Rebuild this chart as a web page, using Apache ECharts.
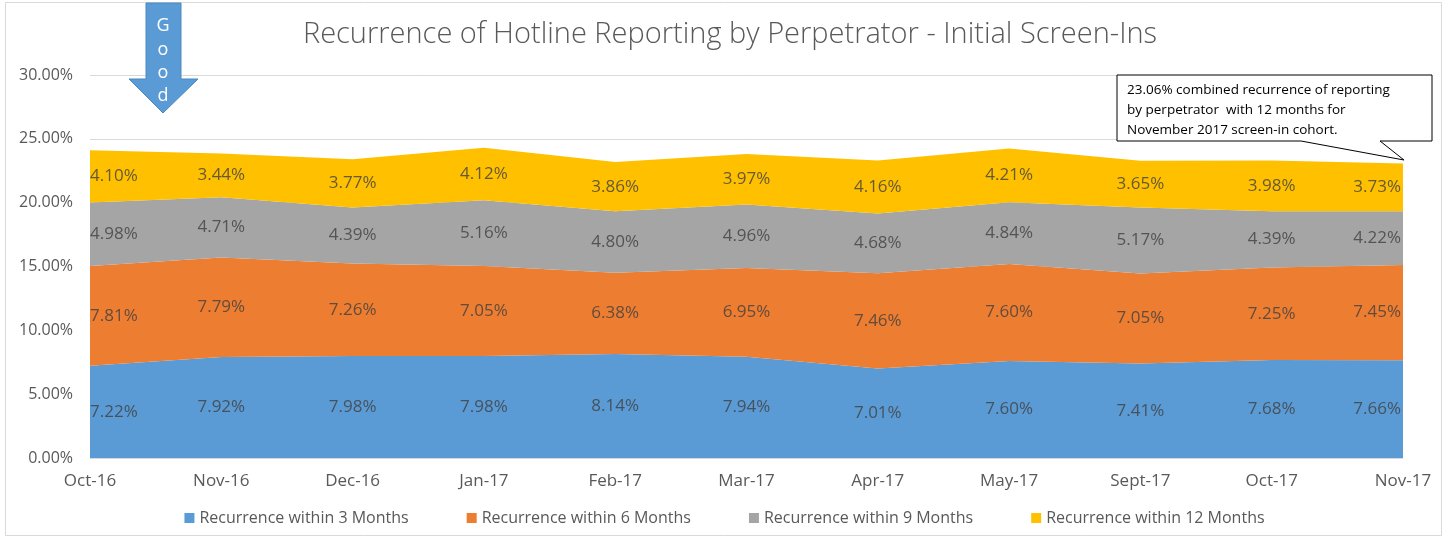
<!DOCTYPE html>
<html><head><meta charset="utf-8">
<script src="https://cdn.jsdelivr.net/npm/echarts@6/dist/echarts.min.js"></script>
<style>html,body{margin:0;padding:0;background:#fff}#c{width:1449px;height:539px}</style>
</head><body><div id="c"></div>
<script>
const categories = ['Oct-16','Nov-16','Dec-16','Jan-17','Feb-17','Mar-17','Apr-17','May-17','Sept-17','Oct-17','Nov-17'];
const rec3  = [7.22, 7.92, 7.98, 7.98, 8.14, 7.94, 7.01, 7.60, 7.41, 7.68, 7.66];
const rec6  = [7.81, 7.79, 7.26, 7.05, 6.38, 6.95, 7.46, 7.60, 7.05, 7.25, 7.45];
const rec9  = [4.98, 4.71, 4.39, 5.16, 4.80, 4.96, 4.68, 4.84, 5.17, 4.39, 4.22];
const rec12 = [4.10, 3.44, 3.77, 4.12, 3.86, 3.97, 4.16, 4.21, 3.65, 3.98, 3.73];
const seriesNames = ['Recurrence within 3 Months','Recurrence within 6 Months','Recurrence within 9 Months','Recurrence within 12 Months'];
const colors = ['#5B9BD5','#ED7D31','#A5A5A5','#FFC000'];
const yTicks = [0,5,10,15,20,25,30];
const font = 'Open Sans';

const all = [rec3, rec6, rec9, rec12];
const series = [];
all.forEach((arr, k) => {
  series.push({
    name: seriesNames[k], type: 'line', stack: 'total', data: arr,
    showSymbol: false, symbol: 'none', lineStyle: {width: 0}, areaStyle: {color: colors[k], opacity: 1},
    itemStyle: {color: colors[k]}, emphasis: {disabled: true}, z: 2
  });
});
// label series: middle of each band
all.forEach((arr, k) => {
  const data = arr.map((v, i) => {
    let below = 0;
    for (let j = 0; j < k; j++) below += all[j][i];
    const item = {value: [i, below + v / 2, v]};
    if (i === 0) item.label = {align: 'left', offset: [0, 0]};
    if (i === arr.length - 1) item.label = {align: 'right', offset: [-2, 0]};
    return item;
  });
  series.push({
    type: 'scatter', data, symbolSize: 0, silent: true, z: 5,
    label: {show: true, position: 'inside', color: '#404040', fontSize: 17, fontFamily: font,
      formatter: p => p.value[2].toFixed(2) + '%'}
  });
});

const chart = echarts.init(document.getElementById('c'));
chart.setOption({
  animation: false,
  title: {text: 'Recurrence of Hotline Reporting by Perpetrator - Initial Screen-Ins', left: 725, top: 15, textAlign: 'center',
    textStyle: {fontFamily: font, fontSize: 29, fontWeight: 300, color: '#595959'}},
  legend: {bottom: 8, left: 'center', itemWidth: 10, itemHeight: 10, itemGap: 58, icon: 'rect',
    data: seriesNames, textStyle: {fontFamily: font, fontSize: 16, color: '#595959'}},
  grid: {left: 90, right: 46, top: 75, bottom: 81},
  xAxis: {type: 'category', data: categories, boundaryGap: false,
    axisLine: {lineStyle: {color: '#d9d9d9'}}, axisTick: {show: false},
    axisLabel: {color: '#595959', fontSize: 17, fontFamily: font, margin: 15}},
  yAxis: {type: 'value', min: 0, max: 30, interval: 5,
    axisLabel: {color: '#595959', fontSize: 16, fontFamily: font, margin: 17, formatter: v => v.toFixed(2) + '%'},
    splitLine: {lineStyle: {color: '#d9d9d9'}}, axisLine: {show: false}, axisTick: {show: false}},
  series,
  graphic: [
    {type: 'rect', shape: {x: 5.5, y: 2.5, width: 1436, height: 533}, style: {fill: 'none', stroke: '#d9d9d9', lineWidth: 1}, z: 0, silent: true},
    {type: 'polygon', shape: {points: [[146,3],[181,3],[181,79],[198,79],[163,113],[129,79],[146,79]]},
      style: {fill: '#5B9BD5', stroke: '#4a89c0', lineWidth: 1}, z: 10},
    {type: 'text', x: 163, y: 26, style: {text: 'G', fill: '#fff', fontSize: 18, fontFamily: font, align: 'center', verticalAlign: 'middle'}, z: 11},
    {type: 'text', x: 163, y: 50, style: {text: 'o', fill: '#fff', fontSize: 18, fontFamily: font, align: 'center', verticalAlign: 'middle'}, z: 11},
    {type: 'text', x: 163, y: 73, style: {text: 'o', fill: '#fff', fontSize: 18, fontFamily: font, align: 'center', verticalAlign: 'middle'}, z: 11},
    {type: 'text', x: 163, y: 96, style: {text: 'd', fill: '#fff', fontSize: 18, fontFamily: font, align: 'center', verticalAlign: 'middle'}, z: 11},
    {type: 'polygon', shape: {points: [[1117,75],[1432,75],[1432,141],[1380,141],[1404,160],[1301,141],[1117,141]]},
      style: {fill: '#fff', stroke: '#000', lineWidth: 1}, z: 10},
    {type: 'text', x: 1127, y: 80, style: {text: '23.06% combined recurrence of reporting\nby perpetrator  with 12 months for\nNovember 2017 screen-in cohort.',
      fill: '#000', fontSize: 13.5, lineHeight: 20, fontFamily: font}, z: 11}
  ]
});
</script></body></html>
